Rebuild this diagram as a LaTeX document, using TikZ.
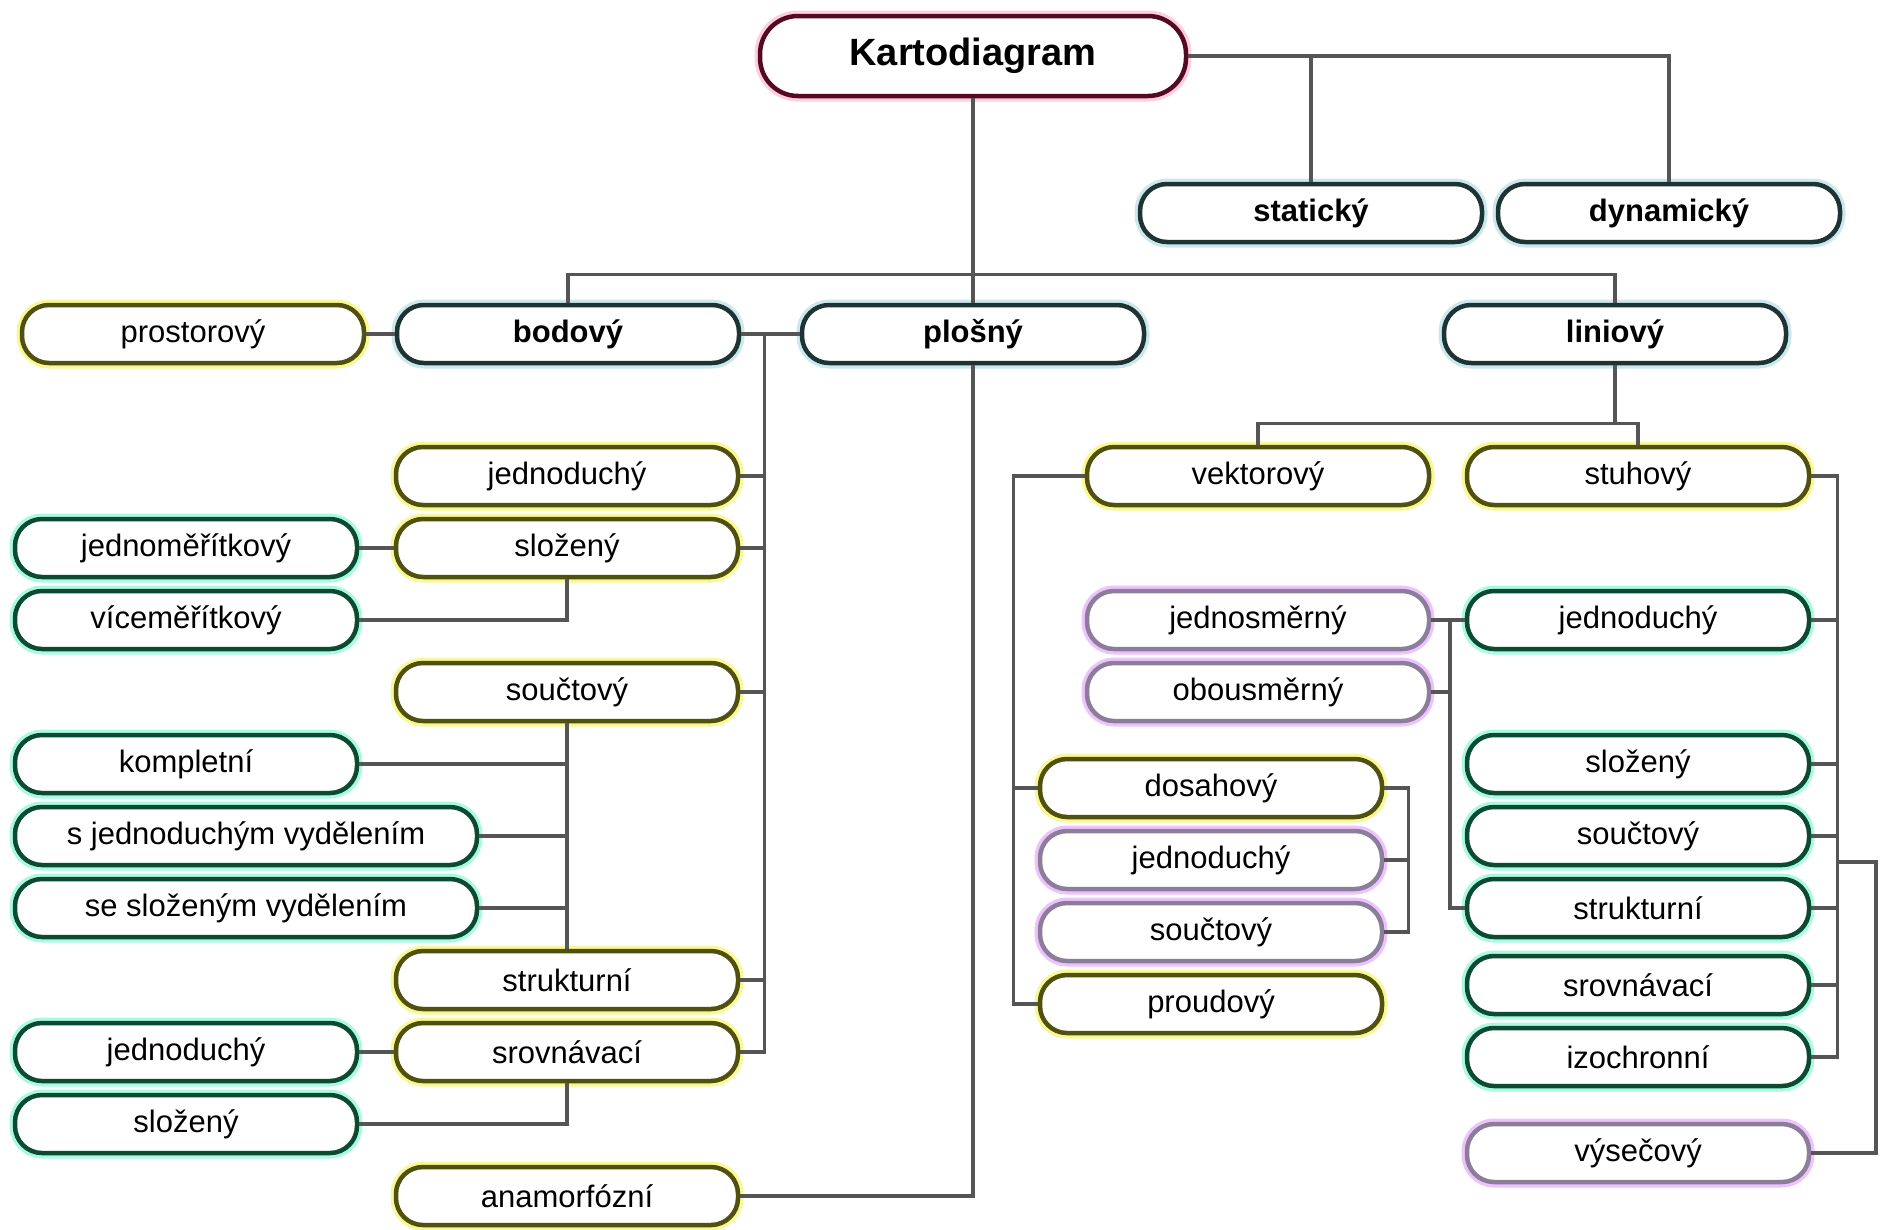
\documentclass[tikz,border=0pt]{standalone}
\usepackage{fontspec}
\setmainfont{Liberation Sans}
\usepackage{tikz}

\definecolor{kdline}{RGB}{85,10,35}
\definecolor{kdglow}{RGB}{255,205,220}
\definecolor{topline}{RGB}{30,52,52}
\definecolor{topglow}{RGB}{205,232,236}
\definecolor{yelline}{RGB}{80,80,15}
\definecolor{yelglow}{RGB}{248,248,150}
\definecolor{tealine}{RGB}{12,75,50}
\definecolor{teaglow}{RGB}{170,250,225}
\definecolor{purline}{RGB}{140,125,155}
\definecolor{purglow}{RGB}{236,195,250}
\definecolor{connc}{RGB}{85,85,85}

\tikzset{
	box/.style={rectangle, rounded corners=27pt, minimum width=342pt, minimum height=58pt,
		inner sep=0pt, line width=4.5pt, fill=white, font=\fontsize{31}{31}\selectfont},
	glow/.style={preaction={draw=#1, line width=11pt}},
	kdbox/.style={box, draw=kdline, glow=kdglow, minimum width=426pt, minimum height=80pt,
		rounded corners=38pt, font=\fontsize{38}{38}\selectfont\bfseries},
	topbox/.style={box, draw=topline, glow=topglow, font=\fontsize{31}{31}\selectfont\bfseries},
	yelbox/.style={box, draw=yelline, glow=yelglow},
	teabox/.style={box, draw=tealine, glow=teaglow},
	purbox/.style={box, draw=purline, glow=purglow},
	widebox/.style={teabox, minimum width=462pt},
	conn/.style={draw=connc, line width=3.2pt}
}

\begin{document}
\begin{tikzpicture}[x=1pt, y=-1pt]
	\useasboundingbox[fill=white] (0,0) rectangle (1881,1229);

	% upper levels
	\node[kdbox] (kd) at (973,56) {Kartodiagram};
	\node[topbox] (stat) at (1311,213) {statický};
	\node[topbox] (dyn) at (1669,213) {dynamický};
	\node[topbox] (bod) at (568,334) {bodový};
	\node[topbox] (plos) at (973,334) {plošný};
	\node[topbox] (lin) at (1615,334) {liniový};
	\node[yelbox] (prost) at (193,334) {prostorový};

	% bodovy
	\node[yelbox] (bjed) at (567,476) {jednoduchý};
	\node[yelbox] (bslo) at (567,548) {složený};
	\node[teabox] (bjm) at (186,548) {jednoměřítkový};
	\node[teabox] (bvm) at (186,620) {víceměřítkový};
	\node[yelbox] (bsou) at (567,692) {součtový};
	\node[teabox] (bkom) at (186,764) {kompletní};
	\node[widebox] (bsjv) at (246,836) {s jednoduchým vydělením};
	\node[widebox] (bssv) at (246,908) {se složeným vydělením};
	\node[yelbox] (bstr) at (567,980) {strukturní};
	\node[yelbox] (bsrv) at (567,1052) {srovnávací};
	\node[teabox] (bsjed) at (186,1052) {jednoduchý};
	\node[teabox] (bsslo) at (186,1124) {složený};
	\node[yelbox] (anam) at (567,1196) {anamorfózní};

	% liniovy
	\node[yelbox] (vekt) at (1258,476) {vektorový};
	\node[yelbox] (stuh) at (1638,476) {stuhový};
	\node[purbox] (jsm) at (1258,620) {jednosměrný};
	\node[purbox] (obsm) at (1258,692) {obousměrný};
	\node[yelbox] (dos) at (1211,788) {dosahový};
	\node[purbox] (vjed) at (1211,860) {jednoduchý};
	\node[purbox] (vsou) at (1211,932) {součtový};
	\node[yelbox] (prou) at (1211,1004) {proudový};
	\node[teabox] (sjed) at (1638,620) {jednoduchý};
	\node[teabox] (sslo) at (1638,764) {složený};
	\node[teabox] (ssou) at (1638,836) {součtový};
	\node[teabox] (sstr) at (1638,908) {strukturní};
	\node[teabox] (ssrv) at (1638,985) {srovnávací};
	\node[teabox] (sizo) at (1638,1057) {izochronní};
	\node[purbox] (svys) at (1638,1153) {výsečový};

	% lines
	\draw[conn] (kd.east) -| (dyn.north);
	\draw[conn] (stat.north |- kd.east) -- (stat.north);
	\draw[conn] (kd.south) -- (plos.north);
	\draw[conn] (bod.north) -- ++(0,-28) -| (lin.north);
	\draw[conn] (prost.east) -- (bod.west);
	\draw[conn] (bod.east) -- (plos.west);
	\draw[conn] (bod.east) ++(23,0) coordinate (bv) |- (bsrv.east);
	\foreach \n in {bjed,bslo,bsou,bstr}
		\draw[conn] (\n.east) -- (\n.east -| bv);
	\draw[conn] (bjm.east) -- (bslo.west);
	\draw[conn] (bvm.east) -| (bslo.south);
	\draw[conn] (bsou.south) -- (bstr.north);
	\foreach \n in {bkom,bsjv,bssv}
		\draw[conn] (\n.east) -- (\n.east -| bsou.south);
	\draw[conn] (bsjed.east) -- (bsrv.west);
	\draw[conn] (bsslo.east) -| (bsrv.south);
	\draw[conn] (plos.south) |- (anam.east);

	\draw[conn] (lin.south) -- ++(0,58) coordinate (lbar);
	\draw[conn] (vekt.north) |- (lbar) -| (stuh.north);
	\draw[conn] (vekt.west) -- ++(-71,0) coordinate (vv) |- (prou.west);
	\draw[conn] (dos.west) -- (dos.west -| vv);
	\draw[conn] (dos.east) -- ++(24,0) coordinate (dv) |- (vsou.east);
	\draw[conn] (vjed.east) -- (vjed.east -| dv);
	\draw[conn] (jsm.east) -- (sjed.west);
	\coordinate (jv) at (1450,620);
	\draw[conn] (jv) |- (sstr.west);
	\draw[conn] (obsm.east) -- (obsm.east -| jv);
	\draw[conn] (stuh.east) -- ++(26,0) coordinate (sv) |- (sizo.east);
	\foreach \n in {sjed,sslo,ssou,sstr,ssrv}
		\draw[conn] (\n.east) -- (\n.east -| sv);
	\coordinate (vysj) at (1836,862);
	\draw[conn] (vysj) -- ++(40,0) |- (svys.east);
\end{tikzpicture}
\end{document}
